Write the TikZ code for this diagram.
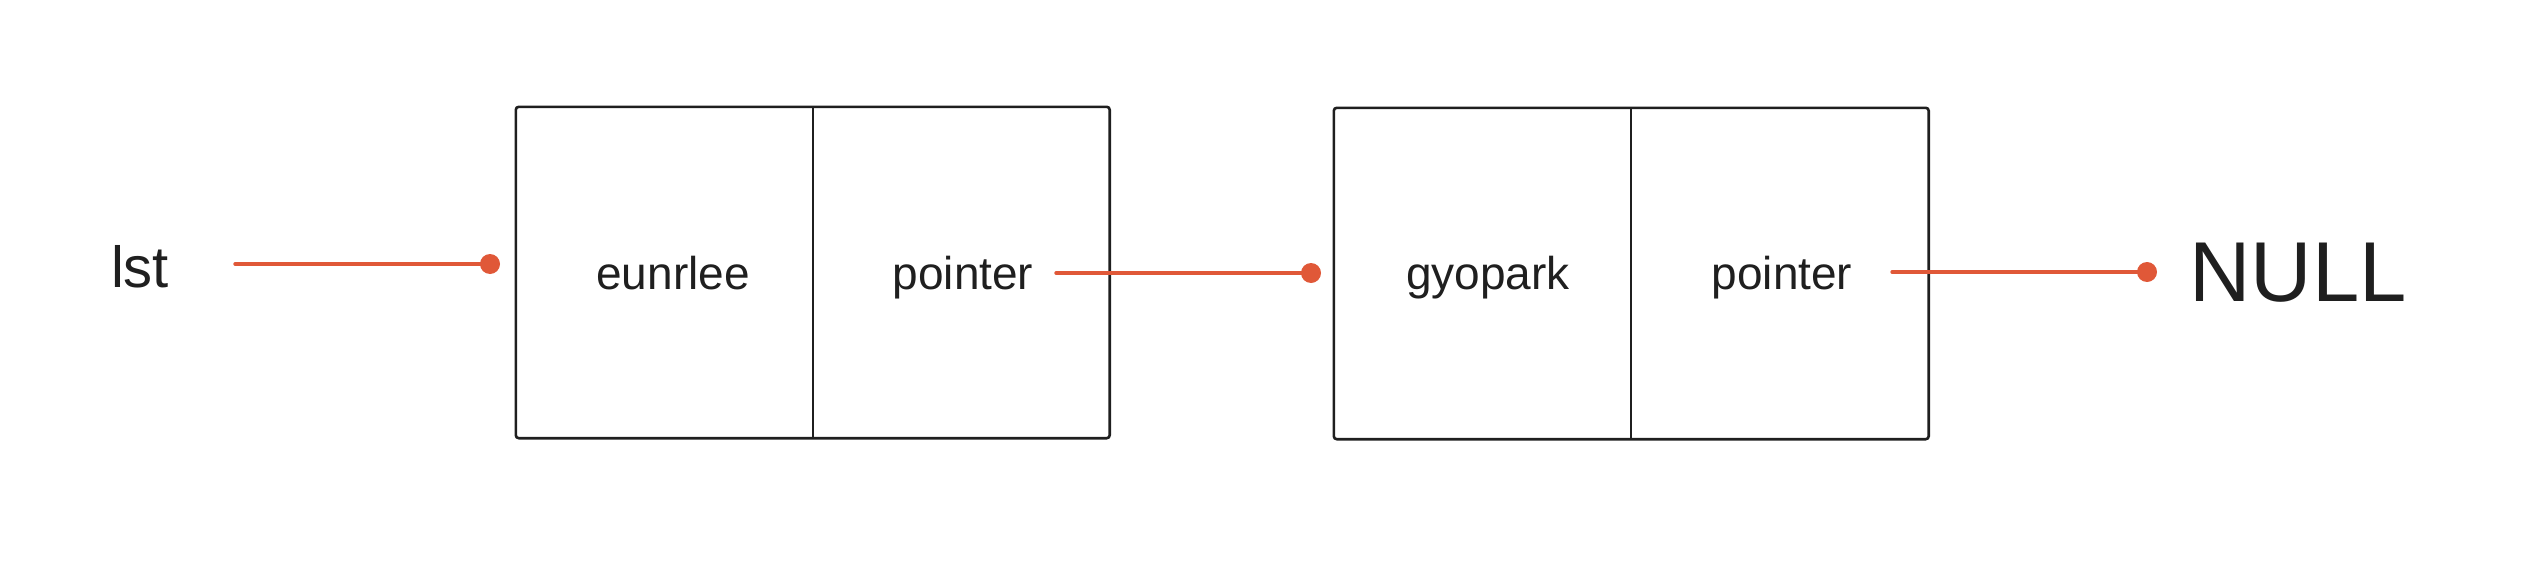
\documentclass[tikz,border=0pt]{standalone}
\usepackage{fontspec}
\setmainfont{Liberation Sans}
\definecolor{linkred}{RGB}{224,88,56}
\definecolor{ink}{RGB}{31,31,31}
\tikzset{
  px/.style={x=1pt,y=-1pt},
  cell/.style={minimum width=297pt,minimum height=331pt,inner sep=0pt,draw=none},
  boxline/.style={draw=ink,line width=2.6pt,rounded corners=3pt},
  divline/.style={draw=ink,line width=1.8pt},
  celltext/.style={font=\fontsize{46}{50}\selectfont,text=ink,inner sep=0pt,anchor=base},
  endtext/.style={text=ink,inner sep=0pt,anchor=base},
  link/.style={draw=linkred,line width=3.4pt,line cap=round},
  dotend/.style={circle,fill=linkred,minimum size=20pt,inner sep=0pt}
}
\begin{document}
\begin{tikzpicture}[px]
\useasboundingbox (0,0) rectangle (2528,586);
% list head label
\node[endtext,font=\fontsize{58}{62}\selectfont] (lst) at (140,287) {lst};
% node 1
\node[cell] (c1a) at (664.5,272.5) {};
\node[cell] (c1b) at (961,272.5) {};
\draw[boxline] (c1a.north west) rectangle (c1b.south east);
\draw[divline] (c1a.north east) -- (c1a.south east);
\node[celltext] (t1a) at (673,289) {eunrlee};
\node[celltext] (t1b) at (963,289) {pointer};
% node 2
\node[cell] (c2a) at (1482.5,273.5) {};
\node[cell] (c2b) at (1780,273.5) {};
\draw[boxline] (c2a.north west) rectangle (c2b.south east);
\draw[divline] (c2a.north east) -- (c2a.south east);
\node[celltext] (t2a) at (1488,289) {gyopark};
\node[celltext] (t2b) at (1782,289) {pointer};
% NULL
\node[endtext,font=\fontsize{85}{90}\selectfont] (null) at (2298,301) {NULL};
% connectors
\coordinate (s1) at (235,264);
\node[dotend] (d1) at (490,264) {};
\draw[link] (s1) -- (d1.center);
\coordinate (s2) at (1056,273);
\node[dotend] (d2) at (1311,273) {};
\draw[link] (s2) -- (d2.center);
\coordinate (s3) at (1892,272);
\node[dotend] (d3) at (2147,272) {};
\draw[link] (s3) -- (d3.center);
\end{tikzpicture}
\end{document}
